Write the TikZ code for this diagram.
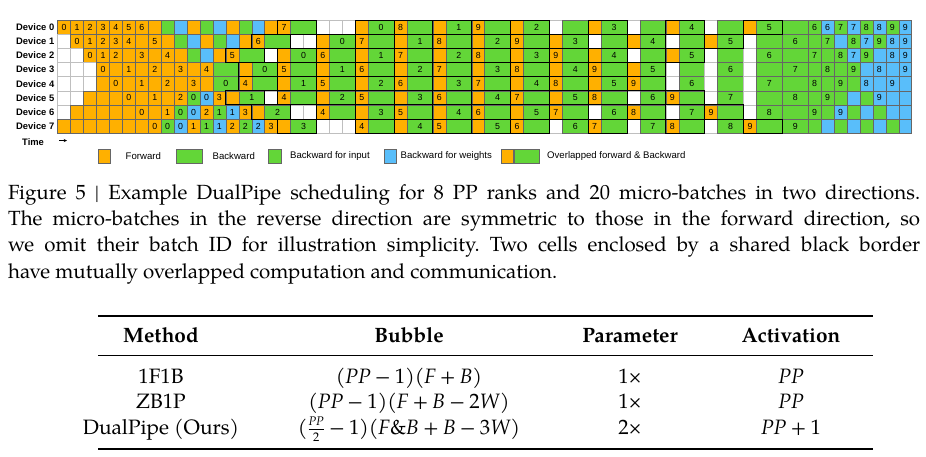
\documentclass[tikz,border=0pt]{standalone}
\usepackage{fontspec}
\setmainfont{TeX Gyre Pagella}
\newfontfamily\figsans{Liberation Sans}
\usetikzlibrary{positioning}

\definecolor{fwd}{RGB}{255,176,0}
\definecolor{bwd}{RGB}{99,214,56}
\definecolor{wgt}{RGB}{89,190,250}

\tikzset{
    cell/.style={line width=0.5pt},
    pair/.style={draw=black, line width=1pt},
    num/.style={font=\figsans\fontsize{8.8}{9}\selectfont, inner sep=0pt},
    devlabel/.style={font=\figsans\bfseries\fontsize{9.4}{10}\selectfont, anchor=east, inner sep=0pt},
    legbox/.style={draw=black!60, line width=0.5pt, minimum height=14pt, inner sep=0pt, anchor=west},
    legtext/.style={font=\figsans\fontsize{9.6}{10}\selectfont, inner sep=0pt, anchor=west},
    captext/.style={font=\fontsize{20.5}{26.3}\selectfont\frenchspacing, text width=912pt, align=justify, inner sep=0pt, anchor=north west},
    tabtext/.style={font=\fontsize{20.8}{24}\selectfont, inner sep=0pt, anchor=base},
    tabhead/.style={tabtext, font=\fontsize{20.8}{24}\selectfont\bfseries},
}

\def\kindf{f}\def\kindi{i}\def\kindw{w}\def\kindb{b}\def\nolab{-}
\newcommand{\bop}[1]{\hspace{0.2em}#1\hspace{0.2em}}
\newcommand{\halfpp}{$\frac{\mbox{\fontsize{12.5}{12.5}\selectfont\itshape PP}}{\mbox{\fontsize{12.5}{12.5}\selectfont 2}}$}

% one device row: #1 = row, #2 = kind/label list
\newcommand{\schedrow}[2]{%
    \xdef\cx{0}%
    \foreach \kind/\lab in {#2}{%
        \def\cellw{1}\def\cfill{white}\def\cdraw{black!25}%
        \ifx\kind\kindf\def\cfill{fwd}\def\cdraw{black!60}\fi
        \ifx\kind\kindi\def\cfill{bwd}\def\cdraw{black!60}\fi
        \ifx\kind\kindw\def\cfill{wgt}\def\cdraw{black!60}\fi
        \ifx\kind\kindb\def\cfill{bwd}\def\cdraw{black!60}\def\cellw{2}\fi
        \draw[cell, draw=\cdraw, fill=\cfill] ({57.67+12.94*\cx},{20+14.16*#1}) rectangle ++({12.94*\cellw},14.16);
        \ifx\lab\nolab\else
            \node[num] (c#1-\cx) at ({57.67+12.94*(\cx+\cellw/2)},{20+14.16*(#1+0.5)}) {\lab};
        \fi
        \pgfmathsetmacro\nx{int(\cx+\cellw)}\xdef\cx{\nx}%
    }}

% overlapped forward & backward boxes
\newcommand{\pairrow}[2]{%
    \foreach \g in {#2}{%
        \draw[pair] ({57.67+12.94*\g},{20+14.16*#1}) rectangle ++(38.82,14.16);
    }}

\begin{document}
\begin{tikzpicture}[x=1pt, y=-1pt]
    \useasboundingbox[fill=white] (0,0) rectangle (926,456);

    % schedule
    \schedrow{0}{f/0,f/1,f/2,f/3,f/4,f/5,f/6,f/-,i/-,w/-,f/-,i/-,w/-,f/-,i/-,w/-,f/-,%
f/7,b/-,e/-,e/-,e/-,f/-,b/0,f/8,b/-,f/-,b/1,f/9,b/-,f/-,b/2,e/-,b/-,f/-,b/3,e/-,b/-,f/-,b/4,%
e/-,b/-,f/-,b/5,b/-,i/6,w/6,i/7,w/7,i/8,w/8,i/9,w/9}
    \schedrow{1}{e/-,f/0,f/1,f/2,f/3,f/4,f/-,f/5,f/-,i/-,w/-,f/-,i/-,w/-,f/-,%
f/6,b/-,e/-,e/-,f/-,b/0,f/7,b/-,f/-,b/1,f/8,b/-,f/-,b/2,f/9,b/-,f/-,b/3,e/-,b/-,f/-,b/4,%
e/-,b/-,f/-,b/5,e/-,b/-,b/6,i/-,i/7,w/-,i/8,w/7,i/9,w/8,w/9}
    \schedrow{2}{e/-,e/-,f/0,f/1,f/2,f/-,f/3,f/-,f/4,f/-,i/-,w/-,f/-,%
f/5,b/-,e/-,f/-,b/0,f/6,b/-,f/-,b/1,f/7,b/-,f/-,b/2,f/8,b/-,f/-,b/3,f/9,b/-,f/-,b/4,%
e/-,b/-,f/-,b/5,e/-,b/-,e/-,b/6,b/-,i/7,i/-,i/8,w/7,i/9,w/-,w/8,w/9}
    \schedrow{3}{e/-,e/-,e/-,f/0,f/-,f/1,f/-,f/2,f/-,f/3,f/-,f/4,b/-,%
f/-,b/0,f/5,b/-,f/-,b/1,f/6,b/-,f/-,b/2,f/7,b/-,f/-,b/3,f/8,b/-,f/-,b/4,f/9,b/-,f/-,b/5,%
e/-,b/-,e/-,b/6,e/-,b/-,b/7,i/-,i/8,i/-,i/9,w/-,w/8,w/-,w/9}
    \schedrow{4}{e/-,e/-,e/-,f/-,f/0,f/-,f/1,f/-,f/2,f/-,f/3,f/-,b/0,%
f/4,b/-,f/-,b/1,f/5,b/-,f/-,b/2,f/6,b/-,f/-,b/3,f/7,b/-,f/-,b/4,f/8,b/-,f/-,b/5,f/9,b/-,%
e/-,b/6,e/-,b/-,e/-,b/7,b/-,i/8,i/-,i/9,i/-,w/8,w/-,w/9,w/-}
    \schedrow{5}{e/-,e/-,f/-,f/-,f/-,f/0,f/-,f/1,f/-,f/2,i/0,w/0,f/3,%
f/-,b/1,e/-,f/4,b/-,f/-,b/2,f/5,b/-,f/-,b/3,f/6,b/-,f/-,b/4,f/7,b/-,f/-,b/5,f/8,b/-,%
e/-,b/6,f/9,b/-,e/-,b/7,e/-,b/-,b/8,i/-,i/9,i/-,w/-,i/-,w/9,w/-,w/-}
    \schedrow{6}{e/-,f/-,f/-,f/-,f/-,f/-,f/0,f/-,f/1,i/0,w/0,f/2,i/1,w/1,f/3,%
f/-,b/2,e/-,e/-,f/4,b/-,f/-,b/3,f/5,b/-,f/-,b/4,f/6,b/-,f/-,b/5,f/7,b/-,%
e/-,b/6,f/8,b/-,e/-,b/7,f/9,b/-,e/-,b/8,b/-,i/9,i/-,w/9,i/-,w/-,i/-,w/-,w/-}
    \schedrow{7}{f/-,f/-,f/-,f/-,f/-,f/-,f/-,f/0,i/0,w/0,f/1,i/1,w/1,f/2,i/2,w/2,f/3,%
f/-,b/3,e/-,e/-,e/-,f/4,b/-,f/-,b/4,f/5,b/-,f/-,b/5,f/6,b/-,%
e/-,b/6,f/7,b/-,e/-,b/7,f/8,b/-,e/-,b/8,f/9,b/-,b/9,i/-,w/-,i/-,w/-,i/-,w/-,i/-,w/-}

    \pairrow{0}{17,23,26,29,32,35,41,47,53}
    \pairrow{1}{15,20,23,26,29,32,35,38,44,50}
    \pairrow{2}{13,17,20,23,26,29,32,35,38,41,47}
    \pairrow{3}{14,17,20,23,26,29,32,35,38,41,44}
    \pairrow{4}{14,17,20,23,26,29,32,35,38,41,44}
    \pairrow{5}{13,17,20,23,26,29,32,35,38,41,47}
    \pairrow{6}{15,20,23,26,29,32,35,38,44,50}
    \pairrow{7}{17,23,26,29,32,35,41,47,53}

    \foreach \r in {0,...,7}
        \node[devlabel] (dev\r) at (54.5,{20+14.16*(\r+0.5)}) {Device \r};

    \node[devlabel, anchor=west] (time) at (22,142) {Time};
    \coordinate (tstart) at (59,140.5);
    \coordinate (tend) at (67,140.5);
    \draw[-stealth, line width=0.5pt] (tstart) -- (tend);

    % legend
    \node[legbox, fill=fwd, minimum width=12pt] (kfwd) at (98,156) {};
    \node[legtext, right=15pt of kfwd] (tfwd) {Forward};
    \node[legbox, fill=bwd, minimum width=26pt] (kbwd) at (176,156) {};
    \node[legtext, right=10pt of kbwd] (tbwd) {Backward};
    \node[legbox, fill=bwd, minimum width=12.5pt] (kin) at (268,156) {};
    \node[legtext, right=9pt of kin] (tin) {Backward for input};
    \node[legbox, fill=wgt, minimum width=12pt] (kwgt) at (384,156) {};
    \node[legtext, right=4pt of kwgt] (twgt) {Backward for weights};
    \node[legbox, fill=fwd, minimum width=12pt] (kovf) at (501,156) {};
    \node[legbox, fill=bwd, minimum width=25pt, right=0pt of kovf] (kovb) {};
    \node[legtext, right=8pt of kovb] (tov) {Overlapped forward \& Backward};

    % caption
    \node[captext] (caption) at (8,184) {Figure 5 | Example DualPipe scheduling for 8 PP ranks and 20 micro-batches in two directions.\linebreak
The micro-batches in the reverse direction are symmetric to those in the forward direction, so\linebreak
we omit their batch ID for illustration simplicity. Two cells enclosed by a shared black border\linebreak
have mutually overlapped computation and communication.};

    % table
    \draw[line width=1.2pt] (98,316) -- (873,316);
    \draw[line width=0.6pt] (98,355) -- (873,355);
    \draw[line width=1.2pt] (98,449) -- (873,449);

    \node[tabhead] (hmethod) at (161,342) {Method};
    \node[tabhead] (hbubble) at (409,342) {Bubble};
    \node[tabhead] (hparam) at (630,342) {Parameter};
    \node[tabhead] (hact) at (791,342) {Activation};

    \node[tabtext] (m1) at (161,383) {1F1B};
    \node[tabtext] (b1) at (409,383) {(\textit{PP}\bop{−}1)(\textit{F}\bop{+}\textit{B})};
    \node[tabtext] (p1) at (630,383) {1×};
    \node[tabtext] (a1) at (791,383) {\textit{PP}};

    \node[tabtext] (m2) at (161,408) {ZB1P};
    \node[tabtext] (b2) at (409,408) {(\textit{PP}\bop{−}1)(\textit{F}\bop{+}\textit{B}\bop{−}2\textit{W})};
    \node[tabtext] (p2) at (630,408) {1×};
    \node[tabtext] (a2) at (791,408) {\textit{PP}};

    \node[tabtext] (m3) at (161,434) {DualPipe (Ours)};
    \node[tabtext] (b3) at (409,434) {(\halfpp\bop{−}1)(\textit{F}\&\textit{B}\bop{+}\textit{B}\bop{−}3\textit{W})};
    \node[tabtext] (p3) at (630,434) {2×};
    \node[tabtext] (a3) at (791,434) {\textit{PP}\bop{+}1};
\end{tikzpicture}
\end{document}
